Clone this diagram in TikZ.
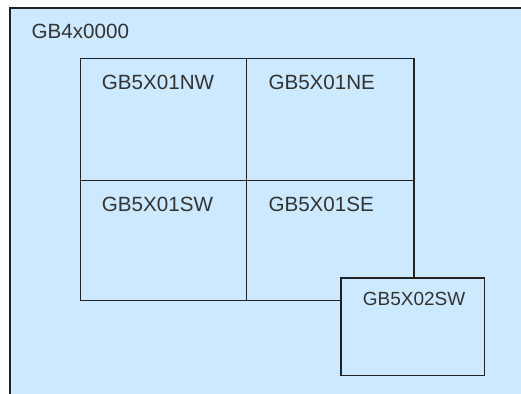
\documentclass[tikz,border=0pt]{standalone}
\usepackage{fontspec}
\setmainfont{Liberation Sans}
\usetikzlibrary{calc}

\definecolor{tileblue}{RGB}{204,233,255}
\definecolor{tileline}{RGB}{34,34,34}

\tikzset{
  tile/.style={rectangle, draw=tileline, fill=tileblue, line width=1.3pt,
    inner sep=0pt, outer sep=0pt, anchor=north west},
  lbl/.style={inner sep=0pt, anchor=base west, text=black!80,
    font=\fontsize{20.6}{24}\selectfont},
  smalllbl/.style={lbl, font=\fontsize{19}{22}\selectfont}
}

\begin{document}
\begin{tikzpicture}[x=1pt, y=-1pt]
  \useasboundingbox (0,0) rectangle (521,393);
  \clip (0,0) rectangle (521,393);

  % outer tile
  \node[tile, minimum width=530pt, minimum height=400pt] (gb4) at (10,8) {};
  \node[lbl] (gb4lbl) at ($(gb4.north west)+(21.5,31)$) {GB4x0000};

  % the four quarter tiles
  \node[tile, minimum width=166pt, minimum height=122pt] (nw) at (80.7,58.3) {};
  \node[tile, minimum width=167.3pt, minimum height=122pt] (ne) at (nw.north east) {};
  \node[tile, minimum width=166pt, minimum height=120.4pt] (sw) at (nw.south west) {};
  \node[tile, minimum width=167.3pt, minimum height=120.4pt] (se) at (nw.south east) {};

  \node[lbl] (nwlbl) at ($(nw.north west)+(21,31.7)$) {GB5X01NW};
  \node[lbl] (nelbl) at ($(ne.north west)+(21.6,31.7)$) {GB5X01NE};
  \node[lbl] (swlbl) at ($(sw.north west)+(21,31.4)$) {GB5X01SW};
  \node[lbl] (selbl) at ($(se.north west)+(21.6,31.4)$) {GB5X01SE};

  % neighbour tile on top
  \node[tile, minimum width=143.7pt, minimum height=97.7pt] (gb02) at (341,278) {};
  \node[smalllbl] (gb02lbl) at ($(gb02.north west)+(21.7,27)$) {GB5X02SW};
\end{tikzpicture}
\end{document}
